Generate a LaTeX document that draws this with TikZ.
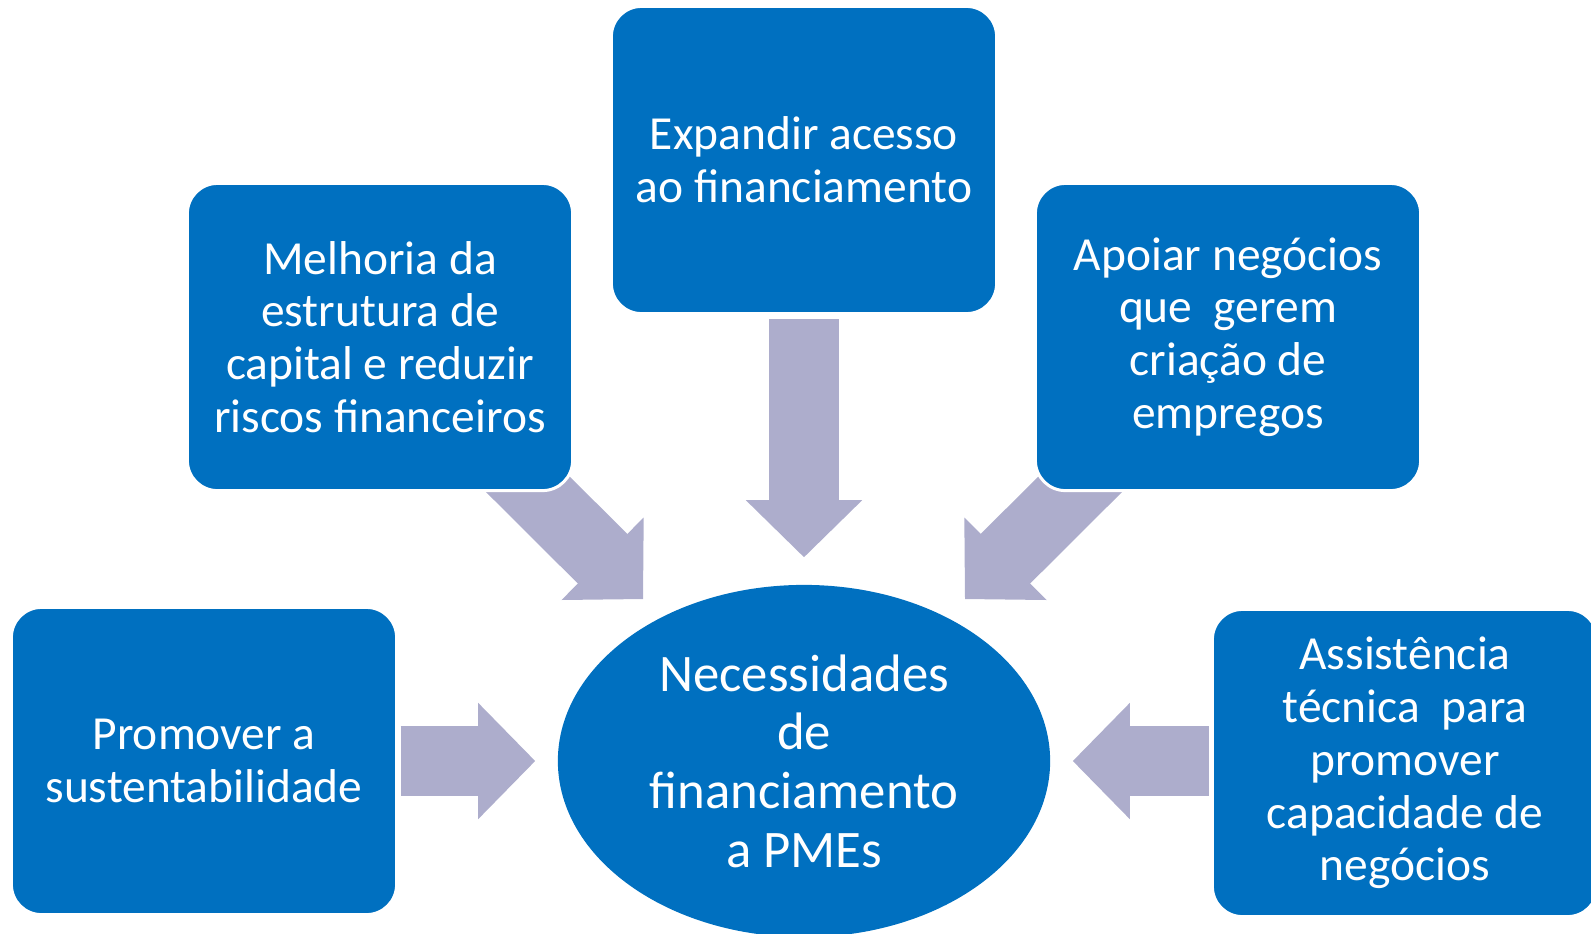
\documentclass[tikz,border=0pt]{standalone}
\usepackage{fontspec}
\setmainfont{Carlito}
\usetikzlibrary{shapes.geometric,arrows.meta,backgrounds}
\definecolor{boxblue}{RGB}{0,112,192}
\definecolor{arrowgray}{RGB}{173,173,204}

\begin{document}
\begin{tikzpicture}[
    x=0.01cm, y=-0.01cm,
    goal/.style={
        draw=white,
        line width=0.03cm,
        rounded corners=0.3cm,
        fill=boxblue,
        minimum width=3.85cm,
        minimum height=3.07cm,
        align=center,
        text=white,
        font=\fontsize{13.5}{15}\selectfont
    },
    need/.style={
        ellipse,
        fill=boxblue,
        minimum width=4.92cm,
        minimum height=3.52cm,
        inner sep=0pt,
        align=center,
        text=white,
        font=\fontsize{15}{16.7}\selectfont
    },
    bigarr/.style={
        draw=arrowgray,
        line width=0.7cm,
        -{Triangle[length=0.57cm, width=1.16cm, line width=0.02cm]}
    }
]
    \useasboundingbox (0,0) rectangle (1591,933);
    \clip (0,0) rectangle (1591,933);

    \node[goal] (access) at (804,160) {Expandir acesso\\ao financiamento};
    \node[goal] (capital) at (380,337) {Melhoria da\\estrutura de\\capital e reduzir\\riscos financeiros};
    \node[goal] (jobs) at (1228,337) {Apoiar negócios\\que \ gerem\\criação de\\empregos};
    \node[goal] (green) at (204,761) {Promover a\\sustentabilidade};
    \node[goal] (assist) at (1405,763) {Assistência\\técnica \ para\\promover\\capacidade de\\negócios};

    \node[need] (sme) at (804,761) {Necessidades\\de\\financiamento\\a PMEs};

    \coordinate (tipL) at (643,599);
    \coordinate (tipR) at (965,599);

    \begin{pgfonlayer}{background}
        \draw[bigarr, shorten <=0.04cm, shorten >=0.27cm] (access.south) -- (sme.north);
        \draw[bigarr] (capital.center) -- (tipL);
        \draw[bigarr] (jobs.center) -- (tipR);
        \draw[bigarr, shorten <=0.025cm, shorten >=0.22cm] (green.east) -- (sme.west);
        \draw[bigarr, shorten <=0.02cm, shorten >=0.22cm] (assist.west |- sme.east) -- (sme.east);
    \end{pgfonlayer}
\end{tikzpicture}
\end{document}
